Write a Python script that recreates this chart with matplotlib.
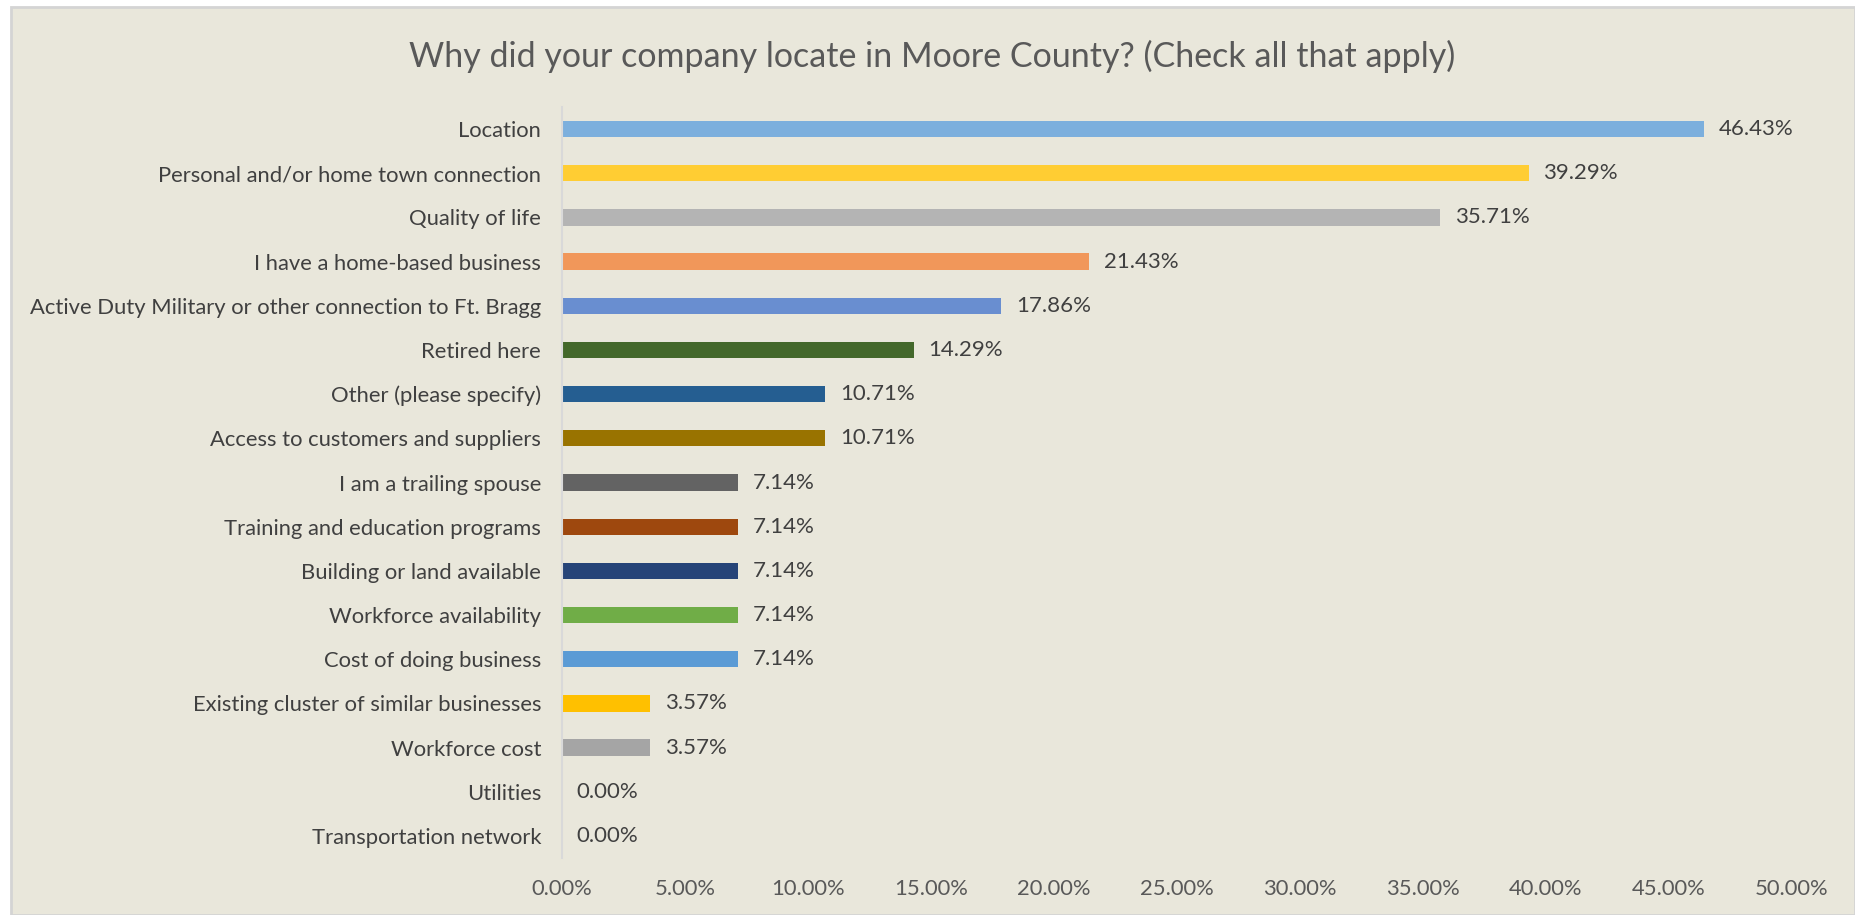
import matplotlib.pyplot as plt
from matplotlib.patches import Rectangle
from matplotlib.ticker import FuncFormatter

plt.rcParams['font.family'] = ['Lato', 'DejaVu Sans']

reasons = ["Location", "Personal and/or home town connection", "Quality of life",
           "I have a home-based business",
           "Active Duty Military or other connection to Ft. Bragg", "Retired here",
           "Other (please specify)", "Access to customers and suppliers",
           "I am a trailing spouse", "Training and education programs",
           "Building or land available", "Workforce availability",
           "Cost of doing business", "Existing cluster of similar businesses",
           "Workforce cost", "Utilities", "Transportation network"]
pct = [46.43, 39.29, 35.71, 21.43, 17.86, 14.29, 10.71, 10.71,
       7.14, 7.14, 7.14, 7.14, 7.14, 3.57, 3.57, 0.00, 0.00]
colors = ["#7CAFDD", "#FFCD33", "#B4B4B4", "#F1975A", "#698ED0", "#43682B",
          "#255E91", "#997300", "#636363", "#9E480E", "#264478", "#70AD47",
          "#5B9BD5", "#FFC000", "#A5A5A5", "#7CAFDD", "#FFCD33"]
xticks = [0, 5, 10, 15, 20, 25, 30, 35, 40, 45, 50]

bg = "#E9E7DB"
fig = plt.figure(figsize=(18.55, 9.15), dpi=100, facecolor="white")
# chart area panel behind everything
fig.patches.append(Rectangle((11/1855, 0), 1 - 11/1855, 1 - 7/915,
                             transform=fig.transFigure, facecolor=bg,
                             edgecolor="#D4D4D4", linewidth=2, zorder=-5))

ax = fig.add_axes([562/1855, 1 - 858/915, (1792 - 562)/1855, (858 - 107)/915])
ax.set_zorder(2)
ax.patch.set_visible(False)

y = range(len(reasons))
ax.barh(y, pct, height=0.37, color=colors)
for i, v in enumerate(pct):
    ax.text(v + 0.6, i, f"{v:.2f}%", va="center", ha="left",
            fontsize=16, color="#404040")

ax.set_ylim(len(reasons) - 0.5, -0.5)
ax.set_xlim(0, 50)
ax.set_yticks(list(y))
ax.set_yticklabels(reasons, fontsize=15.8, color="#404040")
ax.set_xticks(xticks)
ax.xaxis.set_major_formatter(FuncFormatter(lambda v, p: f"{v:.2f}%"))
ax.tick_params(axis="x", length=0, pad=15, labelsize=15.8, labelcolor="#595959")
ax.tick_params(axis="y", length=0, pad=15)
for s in ["top", "right", "bottom"]:
    ax.spines[s].set_visible(False)
ax.spines["left"].set_color("#D9D9D9")
ax.spines["left"].set_linewidth(1.5)

fig.text(932/1855, 1 - 56/915,
         "Why did your company locate in Moore County? (Check all that apply)",
         ha="center", va="center", fontsize=24.5, color="#595959")

fig.savefig("out.png", dpi=100, facecolor="white")
